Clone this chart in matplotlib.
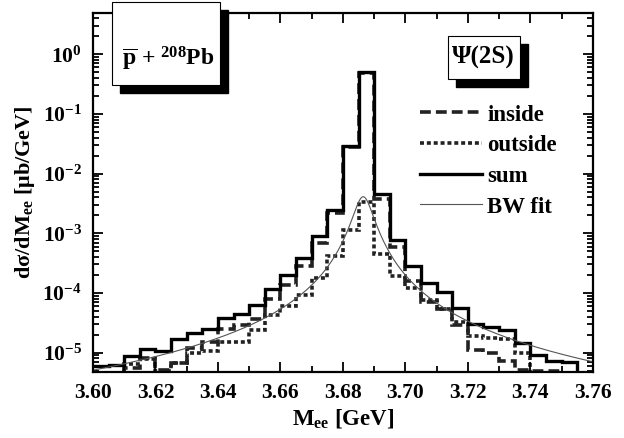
import numpy as np
import matplotlib
matplotlib.use("Agg")
import matplotlib.pyplot as plt
from matplotlib.patches import Rectangle
from matplotlib.ticker import MultipleLocator, LogLocator, FuncFormatter, NullFormatter

plt.rcParams['font.family'] = ['Liberation Serif', 'DejaVu Serif']
plt.rcParams['font.weight'] = 'bold'
plt.rcParams['mathtext.fontset'] = 'custom'
plt.rcParams['mathtext.rm'] = 'Liberation Serif:bold'
plt.rcParams['mathtext.it'] = 'Liberation Serif:bold'
plt.rcParams['mathtext.bf'] = 'Liberation Serif:bold'

# ---- data (bins of 5 MeV from 3.600 to 3.760 GeV) ----
bin_edges = [3.600, 3.605, 3.610, 3.615, 3.620, 3.625, 3.630, 3.635, 3.640, 3.645,
             3.650, 3.655, 3.660, 3.665, 3.670, 3.675, 3.680, 3.685, 3.690, 3.695,
             3.700, 3.705, 3.710, 3.715, 3.720, 3.725, 3.730, 3.735, 3.740, 3.745,
             3.750, 3.755, 3.760]

sum_vals = [6.0e-6, 6.2e-6, 8.9e-6, 1.15e-5, 1.08e-5, 1.7e-5, 2.15e-5, 2.5e-5, 3.8e-5, 4.4e-5,
            6.2e-5, 1.15e-4, 2.0e-4, 3.8e-4, 9.0e-4, 2.5e-3, 2.9e-2, 0.50, 4.5e-3, 7.6e-4,
            2.85e-4, 1.45e-4, 1.05e-4, 5.7e-5, 3.0e-5, 2.65e-5, 2.4e-5, 1.45e-5, 9.3e-6, 7.3e-6,
            6.9e-6, 3.0e-6]

inside_vals = [4.0e-6, 4.0e-6, 5.6e-6, 8.0e-6, 5.1e-6, 6.8e-6, 1.2e-5, 1.5e-5, 2.45e-5, 2.9e-5,
               3.7e-5, 8.0e-5, 1.35e-4, 2.8e-4, 6.9e-4, 2.2e-3, 2.8e-2, 0.49, 3.8e-3, 5.9e-4,
               1.6e-4, 7.1e-5, 5.3e-5, 2.9e-5, 1.1e-5, 1.0e-5, 7.2e-6, 5.1e-6, 4.9e-6, 4.9e-6,
               3.0e-6, 3.0e-6]

outside_vals = [4.0e-6, 4.0e-6, 6.4e-6, 7.7e-6, 5.0e-6, 6.6e-6, 9.8e-6, 1.05e-5, 1.5e-5, 1.5e-5,
                2.4e-5, 4.3e-5, 6.0e-5, 9.2e-5, 1.8e-4, 4.2e-4, 1.15e-3, 3.3e-3, 4.5e-4, 1.9e-4,
                1.2e-4, 7.5e-5, 5.3e-5, 3.3e-5, 1.9e-5, 1.75e-5, 1.7e-5, 1.0e-5, 3.0e-6, 3.0e-6,
                3.0e-6, 3.0e-6]

# Breit-Wigner fit parameters
bw_mass = 3.6865     # GeV
bw_width = 0.0061    # GeV (full width)
bw_peak = 4.1e-3     # mub/GeV

x_ticks = [3.60, 3.62, 3.64, 3.66, 3.68, 3.70, 3.72, 3.74, 3.76]
legend_labels = ['inside', 'outside', 'sum', 'BW fit']

# ---- figure ----
fig = plt.figure(figsize=(6.24, 4.38), dpi=100)
ax = fig.add_axes([0.149, 0.1514, 0.801, 0.8189])
ax.set_yscale('log')

l_in = ax.stairs(inside_vals, bin_edges, baseline=None, color='#222222', lw=2.6,
                 linestyle=(0, (3.0, 1.4)), label=legend_labels[0])
l_out = ax.stairs(outside_vals, bin_edges, baseline=None, color='#222222', lw=2.6,
                  linestyle=(0, (1.1, 0.8)), label=legend_labels[1])
l_sum = ax.stairs(sum_vals, bin_edges, baseline=None, color='black', lw=2.4,
                  label=legend_labels[2])

m = np.linspace(bin_edges[0], bin_edges[-1], 800)
half = bw_width / 2.0
bw = bw_peak * half**2 / ((m - bw_mass)**2 + half**2)
l_bw, = ax.plot(m, bw, color='#555555', lw=0.8, label=legend_labels[3])

ax.set_xlim(3.60, 3.76)
ax.set_ylim(4.8e-6, 4.9)

ax.xaxis.set_minor_locator(MultipleLocator(0.01))
ax.set_xticks(x_ticks)
ax.set_xticklabels(['%.2f' % v for v in x_ticks])
ax.yaxis.set_major_locator(LogLocator(base=10, numticks=20))
ax.yaxis.set_minor_locator(LogLocator(base=10, subs=np.arange(2, 10), numticks=20))
ax.yaxis.set_major_formatter(FuncFormatter(lambda v, p: r'$\mathrm{10^{%d}}$' % int(round(np.log10(v)))))
ax.yaxis.set_minor_formatter(NullFormatter())

ax.tick_params(which='both', direction='in', top=True, right=True, width=1.3)
ax.tick_params(which='major', length=7)
ax.tick_params(which='minor', length=4)
ax.tick_params(axis='x', which='major', labelsize=15.5, pad=8)
ax.tick_params(axis='y', which='major', labelsize=15.5, pad=8)
for lab in ax.get_xticklabels() + ax.get_yticklabels():
    lab.set_fontweight('bold')
for s in ax.spines.values():
    s.set_linewidth(1.6)

ax.set_xlabel(r'M$_{\mathrm{ee}}$ [GeV]', fontsize=16.5, fontweight='bold', labelpad=3)
ax.set_ylabel(r'd$\mathrm{\sigma}$/dM$_{\mathrm{ee}}$ [$\mathrm{\mu}$b/GeV]', fontsize=16,
              fontweight='bold', labelpad=4)

leg = ax.legend(handles=[l_in, l_out, l_sum, l_bw], loc='upper left',
                bbox_to_anchor=(0.654, 0.745), frameon=False, handlelength=2.7,
                handletextpad=0.25, labelspacing=0.42, borderaxespad=0, borderpad=0,
                prop={'family': 'Liberation Serif', 'weight': 'bold', 'size': 16.5})

# ---- label boxes with shadows ----
W, H = 624.0, 438.0
def shadow_box(x0, y0, x1, y1, off=8):
    fig.patches.append(Rectangle((x0 / W + off / W, 1 - y1 / H - off / H), (x1 - x0) / W, (y1 - y0) / H,
                                 transform=fig.transFigure, facecolor='black', edgecolor='black',
                                 zorder=5))
    fig.patches.append(Rectangle((x0 / W, 1 - y1 / H), (x1 - x0) / W, (y1 - y0) / H,
                                 transform=fig.transFigure, facecolor='white', edgecolor='black',
                                 lw=0.8, zorder=6))

shadow_box(112, 2, 220, 85)
fig.text(168 / W, 1 - 58 / H, r'$\overline{\mathrm{p}}$ + $^{\mathrm{208}}$Pb', ha='center', va='center',
         fontsize=17, fontweight='bold', zorder=7)
shadow_box(448, 36, 520, 79)
fig.text(483 / W, 1 - 57 / H, 'Ψ(2S)', ha='center', va='center', fontsize=18,
         fontweight='bold', zorder=7)

fig.savefig('out.png', dpi=100)
